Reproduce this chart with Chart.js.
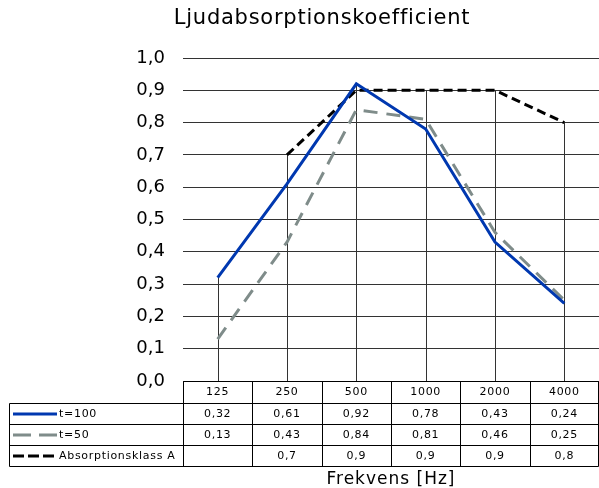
<!DOCTYPE html>
<html>
<head>
<meta charset="utf-8">
<script src="https://cdn.jsdelivr.net/npm/chart.js@4"></script>
<style>
  body { margin: 0; background: #fff; }
  #wrap { width: 599px; height: 488px; }
</style>
</head>
<body>
<div id="wrap"><canvas id="chart"></canvas></div>
<script>
const frekvens = ["125", "250", "500", "1000", "2000", "4000"];
const t100 = [0.32, 0.61, 0.92, 0.78, 0.43, 0.24];
const t50 = [0.13, 0.43, 0.84, 0.81, 0.46, 0.25];
const klassA = [null, 0.7, 0.9, 0.9, 0.9, 0.8];
const yTicks = [0, 0.1, 0.2, 0.3, 0.4, 0.5, 0.6, 0.7, 0.8, 0.9, 1.0];

const font = "DejaVu Sans";
const komma = v => v === null ? "" : String(v).replace(".", ",");

// drop lines + data table + titles, drawn like the Excel original
const tabell = {
    id: 'tabell',
    beforeDatasetsDraw(chart) {
        const ctx = chart.ctx, x = chart.scales.x, y = chart.scales.y;
        ctx.save();
        ctx.strokeStyle = '#333';
        ctx.lineWidth = 1;
        frekvens.forEach((f, i) => {
            const vals = chart.data.datasets.map(d => d.data[i]).filter(v => v !== null);
            const px = Math.round(x.getPixelForValue(i)) + 0.5;
            ctx.beginPath();
            ctx.moveTo(px, y.getPixelForValue(Math.max(...vals)));
            ctx.lineTo(px, chart.chartArea.bottom);
            ctx.stroke();
        });
        ctx.restore();
    },
    afterDraw(chart) {
        const ctx = chart.ctx, x = chart.scales.x, area = chart.chartArea;
        const colW = (area.right - area.left) / frekvens.length;
        const top = Math.round(area.bottom) + 0.5;
        const rows = [top, top + 22, top + 43, top + 64, top + 85];
        const left = 9.5, right = area.right - 0.5;
        ctx.save();
        ctx.strokeStyle = '#000';
        ctx.lineWidth = 1;
        ctx.beginPath();
        // horizontal lines
        ctx.moveTo(Math.round(area.left) + 0.5, rows[0]); ctx.lineTo(right, rows[0]);
        for (let r = 1; r < rows.length; r++) {
            ctx.moveTo(left, rows[r]); ctx.lineTo(right, rows[r]);
        }
        // vertical lines
        ctx.moveTo(left, rows[1]); ctx.lineTo(left, rows[4]);
        for (let c = 0; c <= frekvens.length; c++) {
            const cx = Math.round(area.left + c * colW) + 0.5;
            ctx.moveTo(Math.min(cx, right), rows[0]); ctx.lineTo(Math.min(cx, right), rows[4]);
        }
        ctx.stroke();

        ctx.fillStyle = '#000';
        ctx.font = '11px ' + font;
        ctx.letterSpacing = '0.7px';
        ctx.textAlign = 'center';
        ctx.textBaseline = 'middle';
        frekvens.forEach((f, i) => {
            ctx.fillText(f, x.getPixelForValue(i), (rows[0] + rows[1]) / 2);
        });
        chart.data.datasets.forEach((ds, r) => {
            const cy = (rows[r + 1] + rows[r + 2]) / 2;
            ds.data.forEach((v, i) => {
                ctx.fillText(komma(v), x.getPixelForValue(i), cy);
            });
            // legend key
            ctx.save();
            ctx.strokeStyle = ds.borderColor;
            ctx.lineWidth = 3;
            ctx.setLineDash(ds.keyDash);
            ctx.beginPath();
            ctx.moveTo(13, cy); ctx.lineTo(57, cy);
            ctx.stroke();
            ctx.restore();
            ctx.textAlign = 'left';
            ctx.fillText(ds.label, 59, cy);
            ctx.textAlign = 'center';
        });

        ctx.font = '21px ' + font;
        ctx.letterSpacing = '0.75px';
        ctx.fillText('Ljudabsorptionskoefficient', 322, 19);
        ctx.font = '17px ' + font;
        ctx.letterSpacing = '1px';
        ctx.fillText('Frekvens [Hz]', (area.left + area.right) / 2, 480);
        ctx.restore();
    }
};

new Chart(document.getElementById('chart'), {
    type: 'line',
    data: {
        labels: frekvens,
        datasets: [
            {
                label: 't=100',
                data: t100,
                borderColor: '#0038b0',
                borderWidth: 3,
                keyDash: []
            },
            {
                label: 't=50',
                data: t50,
                borderColor: '#7f8c8a',
                borderWidth: 3,
                borderDash: [14, 9],
                keyDash: [18, 8]
            },
            {
                label: 'Absorptionsklass A',
                data: klassA,
                borderColor: '#000',
                borderWidth: 3,
                borderDash: [9, 5],
                keyDash: [11, 4]
            }
        ]
    },
    options: {
        responsive: true,
        maintainAspectRatio: false,
        animation: false,
        layout: { padding: { top: 58, bottom: 107, left: 0, right: 0 } },
        elements: { point: { radius: 0 }, line: { tension: 0 } },
        scales: {
            x: {
                offset: true,
                grid: { display: false },
                border: { display: false },
                ticks: { display: false },
                afterFit: s => { s.height = 0; }
            },
            y: {
                min: 0,
                max: 1,
                afterBuildTicks: s => { s.ticks = yTicks.map(v => ({ value: v })); },
                grid: { color: '#333', drawTicks: false },
                border: { display: false },
                ticks: {
                    color: '#000',
                    padding: 18,
                    font: { family: font, size: 18 },
                    callback: v => v.toFixed(1).replace('.', ',')
                },
                afterFit: s => { s.width = 183; }
            }
        },
        plugins: {
            legend: { display: false },
            tooltip: { enabled: false }
        }
    },
    plugins: [tabell]
});
</script>
</body>
</html>
